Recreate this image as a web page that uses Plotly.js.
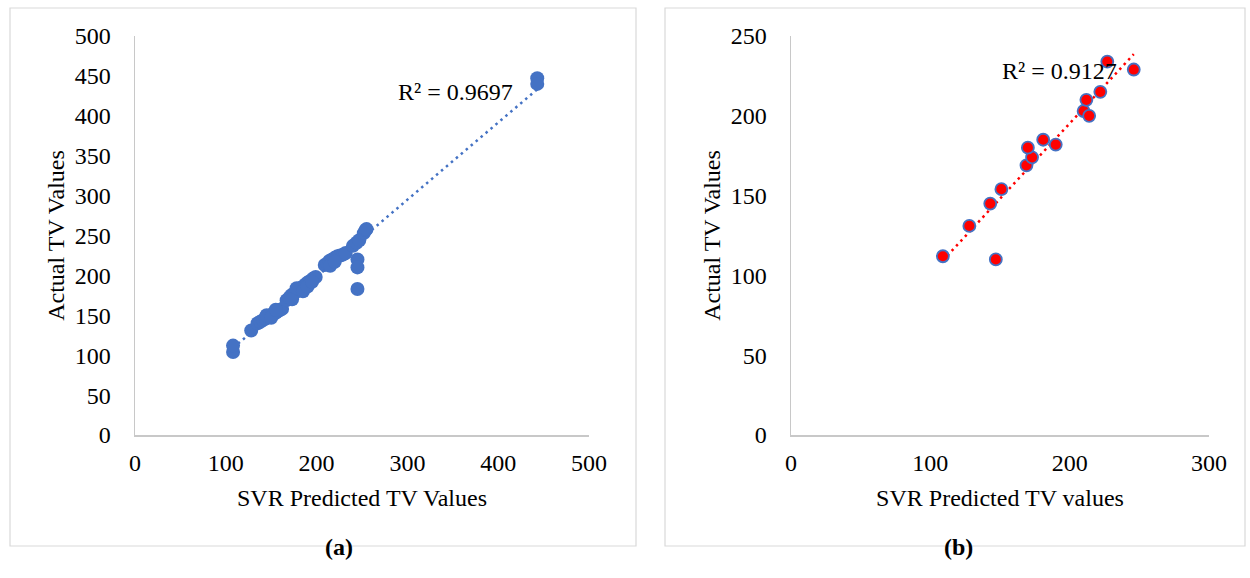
<!DOCTYPE html>
<html>
<head>
<meta charset="utf-8">
<script src="https://cdn.plot.ly/plotly-3.0.1.min.js"></script>
<style>html,body{margin:0;padding:0;background:#fff;}#chart{width:1250px;height:578px;}</style>
</head>
<body>
<div id="chart"></div>
<script>
// Panel (a): SVR predicted vs actual TV values
var predA = [108,108,128,135,138,141,144,147,150,152,155,157,160,162,145,150,155,
  167,170,172,175,178,180,182,185,188,190,193,196,199,173,178,185,190,195,
  209,212,214,217,220,223,226,229,232,215,220,
  240,244,247,252,254,255,245,245,245,443,443];
var actA = [104,112,131,140,142,144,146,148,150,152,153,155,157,158,150,147,157,
  169,172,175,177,180,182,184,186,189,191,193,196,198,170,184,180,186,192,
  213,215,218,220,222,224,225,226,228,212,217,
  237,241,244,253,257,258,220,210,183,447,440];
// Panel (b)
var predB = [109,147,128,143,151,169,173,170,181,190,210,214,212,222,227,246];
var actB  = [112,110,131,145,154,169,174,180,185,182,203,200,210,215,234,229];
var r2A = "R² = 0.9697";
var r2B = "R² = 0.9127";

function fit(x, y) {
  var n = x.length, sx = 0, sy = 0, sxx = 0, sxy = 0;
  for (var i = 0; i < n; i++) { sx += x[i]; sy += y[i]; sxx += x[i]*x[i]; sxy += x[i]*y[i]; }
  var b = (n*sxy - sx*sy) / (n*sxx - sx*sx);
  var a = (sy - b*sx) / n;
  var x0 = Math.min.apply(null, x), x1 = Math.max.apply(null, x);
  return {x: [x0, x1], y: [a + b*x0, a + b*x1]};
}
var tA = fit(predA, actA), tB = fit(predB, actB);

var serif = "Liberation Serif, Times New Roman, serif";
var FS = 24;
var blue = "#4472C4";
var traces = [
  {x: tA.x, y: tA.y, mode: "lines", line: {color: blue, width: 2.5, dash: "2.5px,4px"}, xaxis: "x", yaxis: "y", hoverinfo: "skip"},
  {x: predA, y: actA, mode: "markers", marker: {color: blue, size: 14}, xaxis: "x", yaxis: "y"},
  {x: tB.x, y: tB.y, mode: "lines", line: {color: "#FF0000", width: 2.5, dash: "2.5px,4px"}, xaxis: "x2", yaxis: "y2", hoverinfo: "skip"},
  {x: predB, y: actB, mode: "markers", marker: {color: "#FF0000", size: 12, line: {color: blue, width: 1.8}}, xaxis: "x2", yaxis: "y2"}
];

function xax(dom, range, title) {
  return {domain: dom, range: range, dtick: 100, showgrid: false, zeroline: false,
    showline: true, linecolor: "#c8c8c8", linewidth: 1.5, ticks: "", ticklabelstandoff: 6,
    tickfont: {family: serif, size: FS, color: "#000"},
    title: {text: title, font: {family: serif, size: FS, color: "#000"}, standoff: 14}, fixedrange: true};
}
function yax(range, title, anchor) {
  return {domain: [1 - 435/578, 1 - 36/578], range: range, dtick: 50, showgrid: false, zeroline: false,
    showline: true, linecolor: "#c8c8c8", linewidth: 1.5, ticks: "", ticklabelstandoff: 18,
    tickfont: {family: serif, size: FS, color: "#000"}, anchor: anchor,
    title: {text: title, font: {family: serif, size: FS, color: "#000"}, standoff: 3}, fixedrange: true};
}

var layout = {
  width: 1250, height: 578, margin: {l: 0, r: 0, t: 0, b: 0},
  paper_bgcolor: "#fff", plot_bgcolor: "#fff", showlegend: false,
  xaxis: xax([135/1250, 589/1250], [0, 500], "SVR Predicted TV Values"),
  yaxis: yax([0, 500], "Actual TV Values", "x"),
  xaxis2: Object.assign(xax([791/1250, 1209/1250], [0, 300], "SVR Predicted TV values"), {anchor: "y2"}),
  yaxis2: yax([0, 250], "Actual TV Values", "x2"),
  shapes: [
    {type: "rect", xref: "paper", yref: "paper", x0: 10/1250, x1: 636/1250, y0: 1 - 546/578, y1: 1 - 8/578, line: {color: "#d9d9d9", width: 1.2}},
    {type: "rect", xref: "paper", yref: "paper", x0: 665/1250, x1: 1245/1250, y0: 1 - 546/578, y1: 1 - 8/578, line: {color: "#d9d9d9", width: 1.2}}
  ],
  annotations: [
    {text: r2A, x: 353, y: 430, xref: "x", yref: "y", showarrow: false, font: {family: serif, size: FS, color: "#000"}},
    {text: r2B, x: 193, y: 228, xref: "x2", yref: "y2", showarrow: false, font: {family: serif, size: FS, color: "#000"}},
    {text: "<b>(a)</b>", x: 323/1250, y: 1 - 562/578, xref: "paper", yref: "paper", showarrow: false, font: {family: serif, size: FS, color: "#000"}},
    {text: "<b>(b)</b>", x: 975/1250, y: 1 - 562/578, xref: "paper", yref: "paper", showarrow: false, font: {family: serif, size: FS, color: "#000"}}
  ]
};
Plotly.newPlot("chart", traces, layout, {displayModeBar: false, staticPlot: true});
</script>
</body>
</html>
